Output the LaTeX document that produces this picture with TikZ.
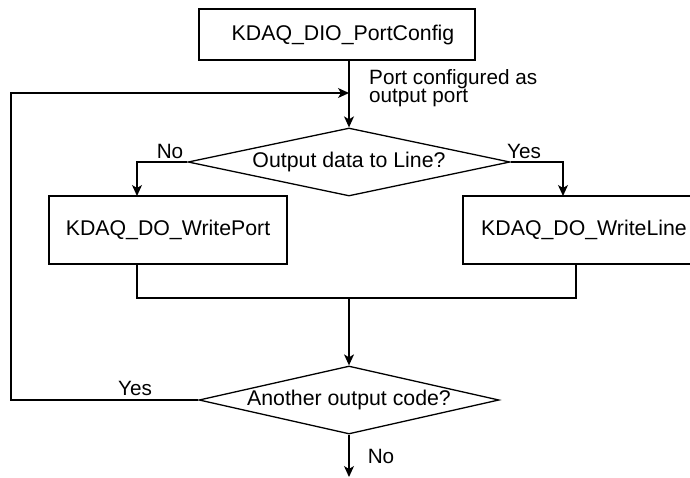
\documentclass[tikz,border=0pt]{standalone}
\usepackage{fontspec}
\setmainfont{Liberation Sans}
\usetikzlibrary{shapes.geometric,arrows.meta}
\begin{document}
\begin{tikzpicture}[x=1pt,y=-1pt,
  every node/.style={font=\fontsize{21.3}{17}\selectfont},
  procbox/.style={draw,line width=1.3pt,rectangle,inner sep=0pt},
  decision/.style={draw,line width=1.3pt,diamond,inner sep=0pt,aspect=4.5},
  conn/.style={line width=1.3pt},
  arr/.style={conn,-{Stealth[length=11pt,width=10pt,inset=3pt]}},
  lbl/.style={inner sep=0pt,font=\fontsize{20.7}{17}\selectfont}]
\useasboundingbox (0,0) rectangle (690,477);
\node[procbox,minimum width=276pt,minimum height=51pt] (cfg) at (337,34.5) {\hspace{12pt}KDAQ\_DIO\_PortConfig};
\node[decision,minimum width=322pt,minimum height=68pt] (d1) at (349,162) {Output data to Line?};
\node[procbox,minimum width=238pt,minimum height=68pt] (wp) at (168,230) {KDAQ\_DO\_WritePort};
\node[procbox,minimum width=240pt,minimum height=68pt] (wl) at (583,230) {\hspace{2pt}KDAQ\_DO\_WriteLine};
\node[decision,minimum width=300pt,minimum height=68pt] (d2) at (349,400) {Another output code?};
\coordinate (wpin) at (137,196);
\coordinate (wlin) at (563,196);
\coordinate (wpout) at (137,264);
\coordinate (wlout) at (576,264);
\coordinate (merge) at (349,298);
\coordinate (loop) at (349,93);
\coordinate (leftx) at (11,0);
\coordinate (endp) at (349,477);
% connectors
\draw[arr] (d1.north |- cfg.south) -- (d1.north);
\draw[arr] (d1.west) -| (wpin);
\draw[arr] (d1.east) -| (wlin);
\draw[conn] (wpout) |- (merge) -| (wlout);
\draw[arr] (merge) -- (d2.north);
\draw[arr] (d2.west) -- (d2.west -| leftx) -- (leftx |- loop) -- (loop);
\draw[arr] (d2.south) -- (endp);
% labels
\node[lbl,align=left,anchor=north west] (pcl) at (369,69) {Port configured as\\output port};
\node[lbl] (no1) at (170,151) {No};
\node[lbl] (yes1) at (524,151) {Yes};
\node[lbl] (yes2) at (135,388) {Yes};
\node[lbl] (no2) at (381,456) {No};
\end{tikzpicture}
\end{document}
